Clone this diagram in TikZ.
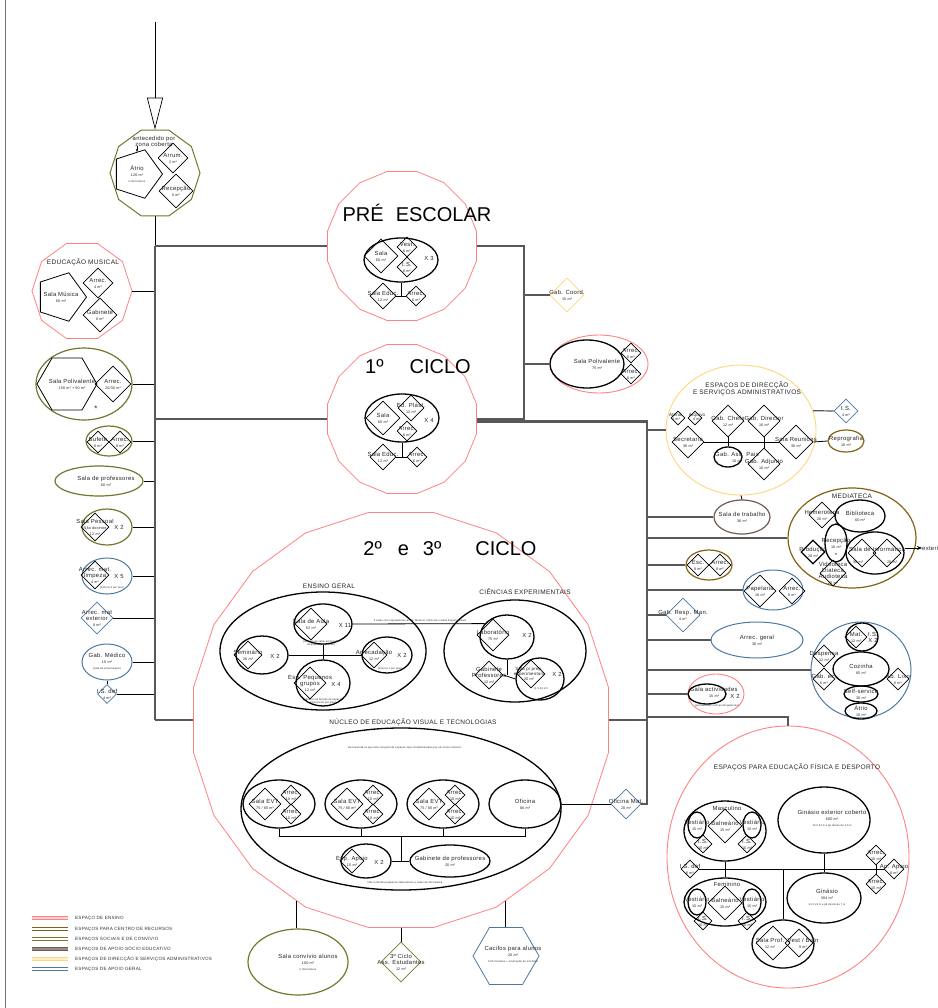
\documentclass[tikz,border=0pt]{standalone}
\usepackage{fontspec}
\setmainfont{Liberation Sans}[LetterSpace=5]
\newfontfamily\titlefont{Liberation Sans}
\usetikzlibrary{shapes.geometric,arrows.meta}

% category colours
\definecolor{ensino}{RGB}{255,130,130}
\definecolor{recursos}{RGB}{130,98,20}
\definecolor{social}{RGB}{118,118,46}
\definecolor{socioed}{RGB}{112,92,82}
\definecolor{direcao}{RGB}{255,214,122}
\definecolor{apoio}{RGB}{78,120,160}
\definecolor{framegray}{RGB}{88,88,88}

% text sizes
\newcommand\lbf{\fontsize{5.9}{6}\selectfont}
\newcommand\smf{\fontsize{4.4}{4.8}\selectfont}
\newcommand\areat[1]{{\fontsize{3.7}{4}\selectfont #1}}
\newcommand\notet{\fontsize{2.6}{3}\selectfont}
\newcommand\ttlf{\fontsize{6.5}{7.5}\selectfont}
\newcommand\hugef{\titlefont\fontsize{20}{22}\selectfont}
\newcommand\legf{\fontsize{4.6}{5}\selectfont}

\tikzset{
  lab/.style={font=\lbf, align=center, inner sep=0pt, text=black!85},
  txt/.style={label={[lab]center:{#1}}},
  dia/.style={draw, shape=diamond, aspect=1, inner sep=0pt, minimum size=#1, line width=0.7pt},
  ell/.style 2 args={draw, shape=ellipse, inner sep=0pt, minimum width=#1, minimum height=#2, line width=0.9pt},
  poly/.style={draw, shape=regular polygon, regular polygon sides=#1, inner sep=0pt, line width=0.8pt},
  conn/.style={line width=0.8pt, black},
  branch/.style={line width=1.2pt, framegray},
  frm/.style={line width=2.6pt, framegray},
  hvy/.style={line width=1.3pt},
  ttl/.style={font=\ttlf, align=center, inner sep=0pt, text=black!85},
  bigtitle/.style={font=\hugef, inner sep=0pt},
  legtext/.style={font=\legf, anchor=west, inner sep=0pt, text=black!80},
}

\newcommand\legrow[5]{%
  \draw[#2, line width=1pt, double=#3, double distance=1.2pt] (32,#1) -- (68,#1);
  \node[legtext] (#5) at (75,#1) {#4};}

\begin{document}
\begin{tikzpicture}[x=1pt,y=-1pt]
\path[use as bounding box] (0,0) rectangle (937,1008);
\clip (0,0) rectangle (937,1008);
\fill[white] (0,0) rectangle (937,1008);
\draw[black!55, line width=1pt] (5,0) -- (5,1008);

% frame corners
\coordinate (fTL) at (155,246);
\coordinate (fTR) at (524,246);
\coordinate (fR) at (647,422);
\coordinate (fBL) at (155,720);
\coordinate (fBR) at (647,720);
\coordinate (fD) at (647,717);
\coordinate (entry) at (155,22);

% ---------- entrance hall ----------
\node[poly=10, draw=social, line width=1pt, minimum size=90] (atrio) at (155,173) {};
\node[lab] (antec) at (154,141) {antecedido por\\zona coberta};
\node[poly=5, shape border rotate=-90, minimum size=51, txt={Átrio\\\areat{126 m²}\\{\notet 0,35m²/aluno}}] (atriop) at (137,174) {};
\node[dia=30, txt={Arrum.\\\areat{2 m²}}] (arrum) at (173,158) {};
\node[dia=34, txt={Recepção\\\areat{6 m²}}] (recat) at (176,191) {};
\draw[conn, -{Stealth[length=3pt,width=2.4pt]}] (antec.south -| atriop.90) -- (atriop.90);
\draw[line width=0.7pt, -{Triangle[open, length=32pt, width=16pt]}] (entry) -- (atrio.90);
\draw[conn] (atrio.270) -- (fTL);

% ---------- music ----------
\node[poly=10, draw=ensino, minimum size=100] (musica) at (82,291) {};
\node[ttl] (musicat) at (83,262) {EDUCAÇÃO MUSICAL};
\node[poly=5, shape border rotate=-90, minimum size=51, txt={Sala Música\\\areat{60 m²}}] (smus) at (61,297) {};
\node[dia=30, txt={Arrec.\\\areat{4 m²}}] (musarr) at (98,283) {};
\node[dia=34, txt={Gabinete\\\areat{8 m²}}] (musgab) at (100,315) {};
\draw[conn] (musica.0) -- (musica.0 -| fTL);

% ---------- left column ----------
\node[ell={96}{72}, draw=social, line width=1.2pt] (gpoli) at (84,384) {};
\node[poly=6, minimum size=60] (spoli) at (67,384) {};
\node[lab] (spolit) at (72,384) {Sala Polivalente\\\areat{150 m² + 50 m²}};
\node[dia=36, txt={Arrec.\\\areat{20/30 m²}}] (poliarr) at (113,384) {};
\node[lab, font=\fontsize{8}{8}\selectfont] (polistar) at (96,409) {*};
\draw[conn] (gpoli.east) -- (gpoli.east -| fTL);

\node[ell={46}{30}, draw=social, line width=1.2pt] (gbuf) at (109,441) {};
\node[dia=22, txt={Bufete\\\areat{8 m²}}] (buf) at (98,442) {};
\node[dia=22, txt={Arrec.\\\areat{8 m²}}] (bufarr) at (120,442) {};
\draw[conn] (gbuf.east) -- (gbuf.east -| fTL);

\node[ell={88}{30}, draw=social, line width=1.2pt] (sprof) at (99,481) {};
\node[lab] (sproft) at (106,481) {Sala de professores\\\areat{60 m²}};
\draw[conn] (sprof.east) -- (sprof.east -| fTL);

\node[ell={50}{36}, draw=social, line width=1.2pt] (gpess) at (107,527) {};
\node[dia=28, txt={Sala Pessoal\\\areat{Não docente}\\\areat{12 m²}}] (pess) at (95,527) {};
\node[lab] (pessx) at (119,527) {X 2};
\draw[conn] (gpess.east) -- (gpess.east -| fTL);

\node[ell={50}{36}, draw=apoio, line width=1pt] (glimp) at (107,576) {};
\node[dia=28, txt={Arrec. mat.\\limpeza\\\areat{4 m²}}] (limp) at (95,575) {};
\node[lab] (limpx) at (119,576) {X 5};
\node[lab, font=\notet] (limpn) at (112,588) {(mínimo 2 por piso)};
\draw[conn] (glimp.east) -- (glimp.east -| fTL);

\node[dia=32, draw=apoio, txt={Arrec. mat\\exterior\\\areat{8 m²}}] (matext) at (97,618) {};
\draw[conn] (matext.east) -- (matext.east -| fTL);

\node[ell={50}{36}, draw=apoio, line width=1pt, txt={Gab. Médico\\\areat{15 m²}\\{\notet (sala de enfermagem)}}] (gmed) at (107,662) {};
\node[dia=19, draw=apoio, txt={I.S. def\\\areat{4 m²}}] (isdef) at (107,694) {};
\draw[conn] (gmed.south) -- (isdef.north);
\draw[conn] (gmed.east) -- (gmed.east -| fTL);
\draw[conn] (isdef.east) -- (isdef.east -| fTL);

% ---------- pre-school ----------
\node[poly=16, draw=ensino, minimum size=152] (pre) at (402,246) {};
\node[bigtitle] (pret) at (417,213) {PRÉ\hspace{12pt}ESCOLAR};
\node[ell={74}{44}, hvy] (preell) at (401,260) {};
\node[dia=34, txt={Sala\\\areat{60 m²}}] (presala) at (381,256) {};
\node[dia=20, txt={Vest.\\\areat{6 m²}}] (prevest) at (407,247) {};
\node[dia=20, txt={I.S.\\\areat{6 m²}}] (preis) at (407,267) {};
\node[lab] (prex) at (429,258) {X 3};
\node[dia=26, txt={Sala Educ.\\\areat{12 m²}}] (preeduc) at (383,296) {};
\node[dia=20, txt={Arrec.\\\areat{6 m²}}] (prearr) at (416,296) {};
\draw[conn] (preell.south) -- (preell.south |- preeduc.east);
\draw[conn] (preeduc.east) -- (prearr.west);

% ---------- 1st cycle ----------
\node[poly=16, draw=ensino, minimum size=152] (cic1) at (402,419) {};
\node[bigtitle] (cic1t) at (418,367) {1º\hspace{26pt}CICLO};
\node[ell={74}{48}, hvy] (c1ell) at (402,418) {};
\node[dia=34, txt={Sala\\\areat{60 m²}}] (c1sala) at (383,418) {};
\node[dia=26, txt={Ed. Plást.\\\areat{12 m²}}] (c1ed) at (411,408) {};
\node[dia=20, txt={Arrec.\\\areat{6 m²}}] (c1arr) at (407,431) {};
\node[lab] (c1x) at (429,420) {X 4};
\node[dia=26, txt={Sala Educ.\\\areat{12 m²}}] (c1educ) at (383,457) {};
\node[dia=20, txt={Arrec.\\\areat{6 m²}}] (c1arr2) at (417,457) {};
\draw[conn] (c1ell.south) -- (c1ell.south |- c1educ.east);
\draw[conn] (c1educ.east) -- (c1arr2.west);

% ---------- between the upper blocks ----------
\node[dia=34, draw=direcao, txt={Gab. Coord.\\\areat{15 m²}}] (gcoord) at (567,295) {};
\node[ell={98}{58}, draw=ensino] (gpoli2) at (599,364) {};
\node[ell={74}{48}, hvy] (poli2) at (587,364) {};
\node[lab] (poli2t) at (597,364) {Sala Polivalente\\\areat{75 m²}};
\node[dia=20, txt={Arrec.\\\areat{6 m²}}] (poli2a) at (631,353) {};
\node[dia=20, txt={Arrec.\\\areat{6 m²}}] (poli2b) at (631,374) {};

% ---------- 2nd and 3rd cycles ----------
\node[poly=20, draw=ensino, minimum size=420] (big) at (401,720) {};
\node[bigtitle] (bigt) at (450,549) {2º\hspace{16pt}e\hspace{14pt}3º\hspace{34pt}CICLO};

\node[ell={206}{118}, hvy] (egeral) at (323,651) {};
\node[ttl] (egeralt) at (329,586) {ENSINO GERAL};
\node[ell={58}{40}, hvy] (aula) at (323,624) {};
\node[dia=32, txt={Sala de Aula\\\areat{52 m²}}] (aulad) at (311,624) {};
\node[lab] (aulax) at (345,625) {X 11};
\node[lab, font=\notet] (aulan) at (321,643) {(número de salas em função\\da população escolar)};
\node[ell={52}{38}, hvy] (semin) at (262,655) {};
\node[dia=28, txt={Seminário\\\areat{36 m²}}] (semind) at (248,655) {};
\node[lab] (seminx) at (275,656) {X 2};
\node[ell={50}{36}, hvy] (arrecad) at (387,655) {};
\node[dia=26, txt={Arrecadação\\\areat{12 m²}}] (arrecadd) at (374,655) {};
\node[lab] (arrecadx) at (402,655) {X 2};
\node[lab, font=\notet] (arrecadn) at (390,669) {(mínimo 1 por piso)};
\node[ell={54}{46}, hvy] (peq) at (323,683) {};
\node[dia=32, txt={Esp. Pequenos\\grupos\\\areat{12 m²}}] (peqd) at (310,683) {};
\node[lab] (peqx) at (336,684) {X 4};
\node[lab, font=\notet] (peqn) at (323,701) {(número em função de espaços\\disponíveis por piso)};
\draw[conn] (semin.east) -- (arrecad.west);
\draw[conn] (aula.south) -- (peq.north);

\node[ell={142}{102}, hvy] (ciencias) at (515,651) {};
\node[ttl] (cienciast) at (525,592) {CIÊNCIAS EXPERIMENTAIS};
\node[ell={54}{44}, hvy] (labor) at (507,637) {};
\node[dia=32, txt={Laboratório\\\areat{75 m²}}] (labord) at (493,635) {};
\node[lab] (laborx) at (527,635) {X 2};
\node[dia=28, txt={Gabinete\\Professores\\\areat{12 m²}}] (cgab) at (489,675) {};
\node[ell={48}{42}, hvy] (prep) at (540,679) {};
\node[dia=28] (prepd) at (531,674) {};
\node[lab, font=\smf] (prept) at (529,674) {Sala p/ prep.\\experimentais\\\areat{20 m²}};
\node[lab] (prepx) at (557,674) {X 2};
\node[lab, font=\notet] (prepn) at (541,689) {(1 X 30 m²)};
\draw[conn] (labor.south) -- (labor.south |- cgab.east);
\draw[conn] (cgab.east) -- (prep.west);
\draw[conn] (aula.east) -- (labor.149);
\node[lab, font=\notet] (auladn) at (420,621) {3 salas com equipamento p/ Ed. Musical, Ciências e aulas Experimentais};

\node[ttl] (nucleot) at (413,722) {NÚCLEO DE EDUCAÇÃO VISUAL E TECNOLOGIAS};
\node[ell={320}{162}, hvy] (nucleo) at (401,809) {};
\node[lab, font=\notet] (nucleon) at (405,748) {Recomenda-se que este conjunto de espaços seja complementado por um sector exterior.};
\foreach \n/\x in {1/279,2/361,3/443} {
  \node[ell={72}{48}, hvy] (evt\n) at (\x,804) {};
  \node[dia=32, txt={Sala EVT\\\areat{75 / 80 m²}}] (evtd\n) at (\x-14,804) {};
  \node[dia=20, txt={Arrec.\\\areat{10 m²}}] (evta\n) at (\x+12,795) {};
  \node[dia=20, txt={Arrec.\\\areat{10 m²}}] (evtb\n) at (\x+12,814) {};
}
\node[ell={72}{48}, hvy, txt={Oficina\\\areat{80 m²}}] (ofic) at (525,804) {};
\coordinate (bus) at (401,836);
\draw[conn] (evt1.south) -- (evt1.south |- bus) -- (ofic.south |- bus) -- (ofic.south);
\draw[conn] (evt2.south) -- (evt2.south |- bus);
\draw[conn] (evt3.south) -- (evt3.south |- bus);
\node[ell={50}{34}, hvy] (eapoio) at (366,861) {};
\node[dia=24, txt={Esp. Apoio\\\areat{10 m²}}] (eapoiod) at (352,861) {};
\node[lab] (eapoiox) at (379,862) {X 2};
\node[ell={80}{32}, hvy, txt={Gabinete de professores\\\areat{20 m²}}] (nucgab) at (450,861) {};
\draw[conn] (bus) -- (bus |- nucgab.west);
\draw[conn] (eapoio.east) -- (nucgab.west);
\node[lab, font=\notet] (nucn2) at (405,883) {Não incluídos pequenos laboratórios e salas de informática};
\node[dia=30, draw=apoio, txt={Oficina Mat.\\\areat{20 m²}}] (oficmat) at (626,804) {};
\draw[conn] (ofic.east) -- (oficmat.west);
\draw[branch] (oficmat.east) -| (fBR);

% ---------- spaces below the big block ----------
\node[ell={100}{66}, draw=social, line width=1.2pt] (conv) at (298,962) {};
\node[lab] (convt) at (308,962) {Sala convívio alunos\\\areat{100 m²}\\{\notet 0,35m²/aluno}};
\draw[conn] (big.240) -- (big.240 |- conv.north);
\node[dia=40, draw=social, txt={3º Ciclo\\Ass. Estudantes\\\areat{12 m²}}] (assest) at (401,962) {};
\draw[conn] (big.270) -- (assest.north);
\node[poly=6, draw=apoio, minimum size=66] (cacifos) at (506,956) {};
\node[lab] (cacifost) at (513,955) {Cacifos para alunos\\\areat{20 m²}\\{\notet 0,05 m²/aluno + arrumação de mochilas}};
\draw[conn] (big.300) -- (big.300 |- cacifos.90);

% ---------- administration ----------
\node[ell={150}{130}, draw=direcao, line width=0.9pt] (dir) at (741,430) {};
\node[ttl] (dirt) at (747,389) {ESPAÇOS DE DIRECÇÃO\\E SERVIÇOS ADMINISTRATIVOS};
\node[dia=14] (atend) at (678,418) {};
\node[dia=14] (arquivo) at (695,418) {};
\node[lab, font=\smf] (atendt) at (676,417) {Atend.\\\areat{4 m²}};
\node[lab, font=\smf] (arquivot) at (697,417) {Arquivo\\\areat{4 m²}};
\node[dia=32, txt={Gab. Chefe\\\areat{12 m²}}] (chefe) at (728,421) {};
\node[dia=32, txt={Gab. Director\\\areat{16 m²}}] (director) at (764,421) {};
\node[dia=32, txt={Secretaria\\\areat{36 m²}}] (secret) at (688,442) {};
\node[dia=34, txt={Sala Reuniões\\\areat{30 m²}}] (reun) at (796,442) {};
\node[ell={28}{20}, hvy] (gass) at (728,457) {};
\node[lab] (gasst) at (737,457) {Gab. Ass. Pais\\\areat{10 m²}};
\node[dia=32, txt={Gab. Adjunto\\\areat{16 m²}}] (adjunto) at (764,464) {};
\draw[conn] (secret.east) -- (reun.west);
\draw[conn] (chefe.south) -- (gass.north);
\draw[conn] (director.south) -- (adjunto.north);
\node[dia=24, draw=apoio, txt={I.S.\\\areat{4 m²}}] (disis) at (846,411) {};
\draw[branch] (dir.15) -- (disis.west);
\node[ell={36}{22}, draw=recursos, line width=1.2pt, txt={Reprografia\\\areat{10 m²}}] (repro) at (846,441) {};
\draw[conn] (reun.east) -- (repro.west);
\node[ell={56}{34}, draw=socioed, line width=1.2pt, txt={Sala de trabalho\\\areat{36 m²}}] (trab) at (742,517) {};
\draw[conn] (dir.south) -- (trab.north);

% ---------- media library ----------
\node[ell={128}{100}, draw=recursos, line width=1.2pt] (media) at (852,538) {};
\node[ttl] (mediat) at (852,496) {MEDIATECA};
\node[dia=26, txt={Hemeroteca\\\areat{20 m²}}] (hemero) at (822,515) {};
\node[ell={50}{32}, hvy, txt={Biblioteca\\\areat{60 m²}}] (biblio) at (860,516) {};
\node[ell={22}{38}, hvy, txt={Recepção\\\areat{10 m²}}] (medrec) at (836,543) {};
\node[lab] (medstar) at (836,555) {*};
\node[dia=24, hvy, txt={Produção\\\areat{20 m²}}] (producao) at (813,552) {};
\node[ell={58}{42}, hvy] (info) at (875,553) {};
\node[dia=28] (infoa) at (862,553) {};
\node[dia=28] (infob) at (887,553) {};
\node[lab] (infot) at (877,549) {Sala de Informática};
\node[lab] (infoat) at (858,562) {\areat{30 m²}};
\node[lab] (infobt) at (892,562) {\areat{20 m²}};
\node[lab, anchor=west] (ext) at (922,548) {exterior};
\draw[conn, -{Stealth[length=5pt,width=4pt]}] (ext.west -| info.east) -- (ext.west);
\node[dia=26, txt={Videoteca\\Diateca\\Audioteca\\\areat{20 m²}}] (video) at (833,573) {};

% ---------- services on the right ----------
\node[ell={46}{30}, draw=recursos, line width=1.2pt] (gesc) at (709,565) {};
\node[dia=22, txt={Esc.\\\areat{8 m²}}] (esc) at (698,565) {};
\node[dia=22, txt={Arrec.\\\areat{8 m²}}] (escarr) at (720,565) {};
\node[ell={60}{40}, draw=apoio, line width=1pt] (gpap) at (773,590) {};
\node[dia=32, txt={Papelaria\\\areat{16 m²}}] (pap) at (760,591) {};
\node[dia=26, txt={Arrec.\\\areat{8 m²}}] (paparr) at (792,591) {};
\node[dia=34, draw=apoio, txt={Gab. Resp. Man.\\\areat{4 m²}}] (resp) at (683,615) {};
\node[ell={92}{36}, draw=apoio, line width=1pt, txt={Arrec. geral\\\areat{30 m²}}] (argeral) at (757,640) {};

\node[ell={100}{96}, draw=apoio, line width=1pt] (gcoz) at (861,670) {};
\node[ell={32}{28}, hvy] (mat) at (862,637) {};
\node[dia=22, txt={Mat.\\\areat{12 m²}}] (matd) at (856,637) {};
\node[lab] (matt) at (873,637) {I.S.\\X 2};
\node[ell={56}{34}, hvy, txt={Cozinha\\\areat{65 m²}}] (coz) at (861,669) {};
\node[dia=22, txt={Despensa\\\areat{12 m²}}] (desp) at (824,656) {};
\node[dia=22, txt={Gab. ec.\\\areat{6 m²}}] (gabec) at (824,679) {};
\node[dia=22, txt={Ab. Lixo\\\areat{6 m²}}] (lixo) at (898,679) {};
\node[ell={34}{16}, hvy, txt={Self-service\\\areat{30 m²}}] (self) at (861,694) {};
\node[ell={32}{16}, hvy, txt={Átrio\\\areat{10 m²}}] (coza) at (861,711) {};

\node[ell={56}{40}, draw=ensino] (gact) at (716,694) {};
\node[ell={38}{20}, hvy] (act) at (707,694) {};
\node[lab] (actt) at (714,692) {Sala actividades\\\areat{15 m²}};
\node[lab] (actx) at (735,696) {X 2};
\node[lab, font=\notet] (actn) at (717,706) {(polivalentes, com prolongamento)};

% ---------- sports ----------
\node[ell={242}{262}, draw=ensino] (desporto) at (788,857) {};
\node[ttl] (despt) at (797,767) {ESPAÇOS PARA EDUCAÇÃO FÍSICA E DESPORTO};
\node[ell={82}{60}, hvy] (masc) at (725,831) {};
\node[lab] (masct) at (727,808) {Masculino};
\node[ell={82}{48}, hvy] (fem) at (725,902) {};
\node[lab] (femt) at (727,884) {Feminino};
\foreach \s/\y in {m/825,f/902} {
  \node[ell={18}{26}, hvy, txt={Vestiário\\\areat{15 m²}}] (\s v1) at (697,\y) {};
  \node[ell={18}{26}, hvy, txt={Vestiário\\\areat{15 m²}}] (\s v2) at (752,\y) {};
  \node[dia=34, txt={Balneário\\\areat{15 m²}}] (\s bal) at (725,\y+1) {};
  \node[dia=18, txt={I.S.\\\areat{10 m²}}] (\s is1) at (703,\y+19) {};
  \node[dia=18, txt={I.S.\\\areat{10 m²}}] (\s is2) at (747,\y+19) {};
}
\node[dia=18, txt={I.S. def\\\areat{6 m²}}] (dis) at (690,869) {};
\node[dia=20, txt={Ap. Apoio\\\areat{8 m²}}] (dapoio) at (894,869) {};
\draw[conn] (dis.east) -- (dapoio.west);
\draw[conn] (masc.south) -- (fem.north);
\node[ell={92}{66}, hvy] (ginext) at (824,820) {};
\node[lab] (ginextt) at (832,819) {Ginásio exterior coberto\\\areat{600 m²}\\{\notet 15 X 32 m e pé direito de 4,5 m}};
\node[ell={74}{50}, hvy] (gin) at (824,898) {};
\node[lab] (gint) at (827,898) {Ginásio\\\areat{384 m²}\\{\notet 16 X 24 m e pé direito de 7 m}};
\draw[conn] (ginext.south) -- (gin.north);
\node[ell={62}{48}, hvy] (gprof) at (783,944) {};
\node[dia=34] (dprof) at (773,943) {};
\node[dia=28] (dvb) at (799,943) {};
\node[lab] (dproft) at (770,943) {Sala Prof.\\\areat{12 m²}};
\node[lab] (dvbt) at (803,943) {Vest / Baln\\\areat{9 m²}};
\draw[conn] (gprof.north |- dis.east) -- (gprof.north);
\node[dia=20, txt={Arrec.\\\areat{10 m²}}] (dar1) at (876,855) {};
\node[dia=20, txt={Arrec.\\\areat{10 m²}}] (dar2) at (876,884) {};
\draw[conn] (dar1.south) -- (dar2.north);

% ---------- main frame and branches ----------
\draw[frm] (fTL) -- (fBL);
\draw[frm] (fTL) -- (pre.180);
\draw[frm] (pre.0) -- (fTR) -- (fTR |- cic1.0) -- (cic1.0);
\draw[frm] (cic1.180) -- (cic1.180 -| fTL);
\draw[frm] (cic1.-2) -- (cic1.-2 -| fR) -- (fBR);
\draw[frm] (fBL) -- (big.180);
\draw[frm] (big.0) -- (fBR);

\draw[branch] (gcoord.west) -- (gcoord.west -| fTR);
\draw[branch] (gpoli2.west) -- (gpoli2.west -| fTR);
\draw[branch] (dir.west) -- (dir.west -| fR);
\draw[branch] (trab.west) -- (trab.west -| fR);
\draw[branch] (media.west) -- (media.west -| fR);
\draw[branch] (gesc.west) -- (gesc.west -| fR);
\draw[branch] (gpap.west) -- (gpap.west -| fR);
\draw[branch] (resp.west) -- (resp.west -| fR);
\draw[branch] (argeral.west) -- (argeral.west -| fR);
\draw[branch] (gcoz.west) -- (gcoz.west -| fR);
\draw[branch] (gact.west) -- (gact.west -| fR);
\draw[branch] (fD) -| (desporto.north);

% ---------- legend ----------
\legrow{918}{ensino}{ensino!35}{ESPAÇO DE ENSINO}{leg1}
\legrow{929}{recursos}{white}{ESPAÇOS PARA CENTRO DE RECURSOS}{leg2}
\legrow{939}{social}{white}{ESPAÇOS SOCIAIS E DE CONVÍVIO}{leg3}
\legrow{949}{socioed}{socioed!70}{ESPAÇOS DE APOIO SÓCIO EDUCATIVO}{leg4}
\legrow{959}{direcao}{direcao!40}{ESPAÇOS DE DIRECÇÃO E SERVIÇOS ADMINISTRATIVOS}{leg5}
\legrow{969}{apoio}{white}{ESPAÇOS DE APOIO GERAL}{leg6}
\end{tikzpicture}
\end{document}
